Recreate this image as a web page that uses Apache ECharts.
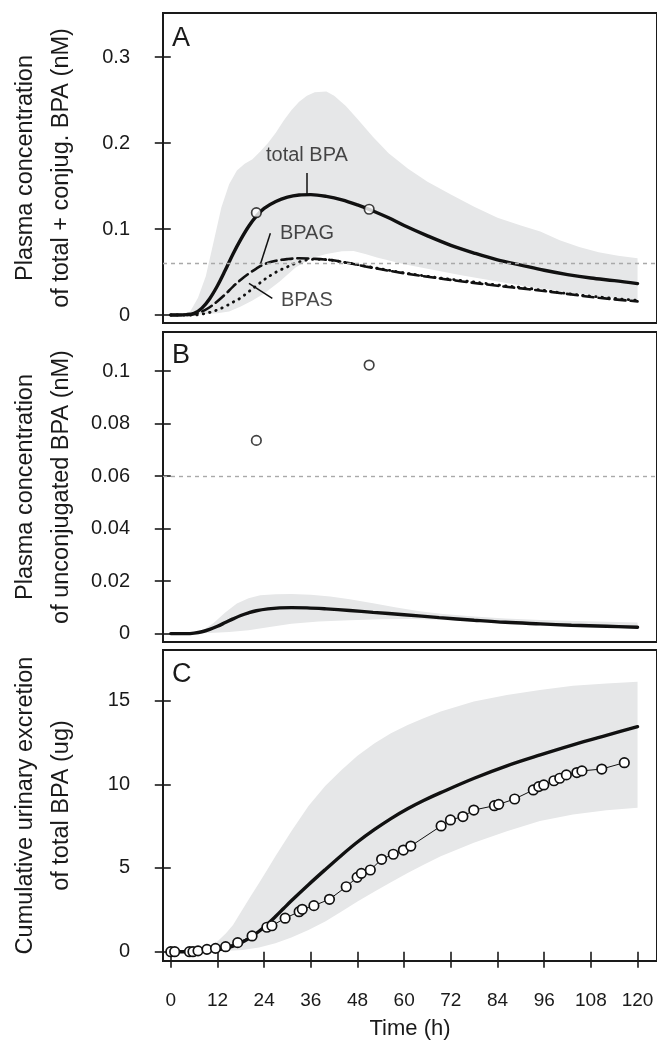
<!DOCTYPE html>
<html><head><meta charset="utf-8">
<script src="https://cdn.jsdelivr.net/npm/echarts@6/dist/echarts.min.js"></script>
<style>html,body{margin:0;padding:0;background:#fff}#c{width:657px;height:1042px}</style>
</head><body><div id="c"></div>
<script>
// ---------- tick labels ----------
const xTicks = [0, 12, 24, 36, 48, 60, 72, 84, 96, 108, 120];
const yTicksA = [0, 0.1, 0.2, 0.3];
const yTicksB = [0, 0.02, 0.04, 0.06, 0.08, 0.1];
const yTicksC = [0, 5, 10, 15];
const LOQ = 0.0614;

// ---------- Panel A: total + conjugated BPA (nM) ----------
const totalBPA = [[0,0],[4,0.0005],[6,0.002],[8,0.008],[10,0.019],[12,0.034],[14,0.052],[16,0.071],[18,0.088],[20,0.103],[22,0.115],[24,0.124],[27,0.132],[30,0.137],[33,0.1395],[36,0.140],[40,0.138],[44,0.134],[48,0.128],[52,0.121],[56,0.113],[60,0.104],[66,0.092],[72,0.081],[78,0.072],[84,0.064],[90,0.058],[96,0.052],[102,0.047],[108,0.043],[114,0.040],[120,0.0365]];
const bpag = [[0,0],[4,0],[6,0.001],[8,0.004],[10,0.009],[12,0.016],[14,0.024],[16,0.033],[18,0.041],[20,0.048],[22,0.054],[24,0.059],[27,0.063],[30,0.065],[33,0.066],[36,0.0655],[41,0.064],[45,0.061],[50,0.0565],[58,0.050],[66,0.0445],[75,0.039],[84,0.034],[92,0.030],[101,0.025],[110,0.020],[120,0.0158]];
const bpas = [[0,0],[6,0],[8,0.001],[10,0.003],[12,0.006],[14,0.010],[16,0.015],[18,0.020],[20,0.027],[22,0.034],[24,0.041],[26,0.047],[28,0.052],[30,0.056],[32,0.060],[34,0.063],[36,0.0645],[38,0.0648],[41,0.064],[45,0.061],[50,0.057],[58,0.0505],[66,0.045],[75,0.040],[84,0.035],[92,0.031],[101,0.0255],[110,0.021],[120,0.017]];
const bandA_upper = [[3,0],[5,0.004],[7,0.02],[9,0.045],[11,0.085],[13,0.125],[15,0.152],[17,0.168],[19,0.176],[21,0.181],[23,0.19],[25,0.2],[27,0.212],[29,0.226],[31,0.238],[33,0.248],[35,0.255],[37,0.259],[40,0.26],[42,0.255],[45,0.243],[48,0.228],[52,0.207],[56,0.188],[61,0.17],[66,0.155],[72,0.14],[78,0.126],[84,0.113],[90,0.104],[95,0.097],[100,0.087],[105,0.079],[110,0.073],[115,0.069],[120,0.066]];
const bandA_lower = [[3,0],[8,0.001],[12,0.002],[15,0.004],[18,0.01],[21,0.017],[24,0.025],[28,0.039],[32,0.055],[36,0.066],[40,0.071],[44,0.074],[47,0.0745],[50,0.071],[53,0.067],[60,0.059],[67,0.053],[75,0.046],[84,0.039],[92,0.033],[101,0.027],[110,0.022],[120,0.016]];
const obsA = [[22.0,0.119],[51.0,0.123]];
const annotA = [
  {name:'total BPA', value:[35,0.185]},
  {name:'BPAG', value:[35,0.0948]},
  {name:'BPAS', value:[35,0.0174]}
];
const leadersA = [
  [[35,0.165],[35,0.140]],
  [[25.6,0.095],[23.1,0.060]],
  [[20.1,0.0369],[26.1,0.0194]]
];

// ---------- Panel B: unconjugated BPA (nM) ----------
const modelB = [[0,0],[4,0],[6,0.0002],[8,0.0007],[10,0.0016],[12,0.0028],[14,0.0042],[16,0.0056],[18,0.0069],[20,0.0079],[22,0.0087],[25,0.0094],[28,0.0098],[31,0.0099],[35,0.0098],[40,0.0094],[46,0.0088],[52,0.0081],[60,0.0072],[69,0.0061],[78,0.0051],[86,0.0043],[95,0.0037],[103,0.0032],[112,0.0028],[120,0.0024]];
const bandB_upper = [[5,0],[8,0.001],[11,0.004],[14,0.008],[17,0.0115],[20,0.0135],[23,0.0146],[27,0.015],[31,0.0151],[36,0.0148],[41,0.0141],[46,0.0131],[52,0.0116],[58,0.0099],[64,0.0085],[70,0.0075],[78,0.0065],[86,0.0058],[95,0.0052],[104,0.0048],[112,0.0045],[120,0.0042]];
const bandB_lower = [[5,0],[10,0.0002],[15,0.0006],[20,0.0013],[25,0.0024],[31,0.0038],[38,0.0046],[46,0.0051],[54,0.0055],[62,0.0056],[70,0.0052],[78,0.0046],[86,0.0039],[95,0.0030],[104,0.0025],[112,0.0021],[120,0.0018]];
const obsB = [[22.0,0.0736],[51.0,0.1023]];

// ---------- Panel C: cumulative urinary excretion (ug) ----------
const modelC = [[0,0],[5,0],[8,0.02],[11,0.08],[14,0.2],[16,0.33],[18,0.52],[20,0.78],[22.7,1.22],[25,1.68],[27,2.12],[29,2.58],[31,3.04],[35.4,4.0],[39.7,4.9],[44,5.78],[48,6.55],[52.4,7.3],[56.6,7.95],[61,8.55],[65,9.03],[69.4,9.5],[78,10.36],[86.4,11.1],[95,11.75],[103.4,12.35],[112,12.92],[120,13.44]];
const bandC_upper = [[3,0],[6,0.05],[9,0.15],[11.5,0.5],[14.2,1.1],[16,1.6],[18.4,2.5],[20.5,3.3],[22.7,4.1],[24.8,4.9],[26.9,5.7],[31,7.2],[35.4,8.7],[39.7,9.9],[43.9,10.85],[48,11.7],[52.4,12.45],[56.6,13.05],[60.9,13.54],[65,13.95],[69.4,14.34],[77.9,14.94],[86.4,15.33],[94.9,15.63],[103.4,15.89],[112,16.02],[120,16.13]];
const bandC_lower = [[3,0],[10,0],[18.4,0.1],[22.7,0.25],[26.9,0.5],[31,0.85],[35.4,1.3],[39.7,1.8],[43.9,2.4],[48,3.0],[52.4,3.6],[56.6,4.15],[60.9,4.7],[65,5.2],[69.4,5.7],[77.9,6.5],[86.4,7.2],[94.9,7.8],[103.4,8.2],[112,8.45],[120,8.6]];
const obsC = [[0,0],[1,0],[4.8,0],[5.7,0],[7,0.05],[9.3,0.14],[11.5,0.2],[14.1,0.3],[17.2,0.54],[20.9,0.94],[24.7,1.46],[26,1.55],[29.4,2.0],[33,2.39],[33.8,2.53],[36.8,2.75],[40.8,3.13],[45.1,3.88],[47.9,4.44],[49,4.68],[51.3,4.88],[54.2,5.52],[57.2,5.82],[59.8,6.07],[61.7,6.31],[69.5,7.51],[71.9,7.87],[75.1,8.07],[77.9,8.46],[83.2,8.72],[84.3,8.8],[88.4,9.12],[93.2,9.66],[94.6,9.86],[95.9,9.96],[98.5,10.21],[100,10.36],[101.7,10.56],[104.4,10.7],[105.7,10.8],[110.8,10.91],[116.6,11.29]];

// ---------- styling / layout ----------
const FONT = 'Liberation Sans, Arial, Helvetica, sans-serif';
const INK = '#1a1a1a';
const BAND = '#e6e7e8';
const grids = [
  {left:160, top:13, width:498, height:310},
  {left:160, top:332, width:498, height:310},
  {left:160, top:650, width:498, height:311}
].map(g => Object.assign(g, {show:true, borderColor:INK, borderWidth:2, backgroundColor:'transparent', containLabel:false}));

function xAxis(i, showLabels) {
  return {
    type:'value', gridIndex:i, min:-2, max:125,
    axisLine:{show:false}, splitLine:{show:false},
    axisTick:{show:showLabels, length:16, lineStyle:{color:INK, width:1.6}, customValues:xTicks},
    axisLabel:{show:showLabels, margin:30, fontSize:19, color:INK, fontFamily:FONT, customValues:xTicks},
    name: showLabels ? 'Time (h)' : '', nameLocation:'middle', nameGap:57,
    nameTextStyle:{fontSize:22, color:INK, fontFamily:FONT}
  };
}
function yAxis(i, min, max, ticks, name) {
  return {
    type:'value', gridIndex:i, min:min, max:max,
    axisLine:{show:false}, splitLine:{show:false},
    axisTick:{show:true, length:16, lineStyle:{color:INK, width:1.6}, customValues:ticks},
    axisLabel:{margin:33, fontSize:20, color:INK, fontFamily:FONT, customValues:ticks, formatter:v => String(v)},
    name:name, nameLocation:'middle', nameRotate:90, nameGap:83,
    nameTextStyle:{fontSize:23.5, lineHeight:36, color:INK, fontFamily:FONT, align:'center'}
  };
}
function band(upper, lower, gi) {
  return {
    type:'custom', xAxisIndex:gi, yAxisIndex:gi, z:1, silent:true,
    data:[[upper[0][0], upper[0][1]]],
    renderItem:(params, api) => {
      const pts = upper.map(p => api.coord(p)).concat(lower.slice().reverse().map(p => api.coord(p)));
      return {type:'polygon', shape:{points:pts}, style:{fill:BAND}};
    }
  };
}
function curve(data, gi, type, width) {
  return {type:'line', xAxisIndex:gi, yAxisIndex:gi, data:data, smooth:0.35, showSymbol:false, z:3, silent:true,
    lineStyle:{color:'#111', width:width, type:type, cap:'round'}};
}
function obs(data, gi, connect) {
  return {type:connect ? 'line' : 'scatter', xAxisIndex:gi, yAxisIndex:gi, data:data, z:5, silent:true,
    symbol:'circle', symbolSize:9.5, showSymbol:true,
    itemStyle:{color:'#fff', borderColor:'#111', borderWidth:1.7},
    lineStyle:{color:'#111', width:1}};
}
function loqLine(gi) {
  return {type:'line', xAxisIndex:gi, yAxisIndex:gi, data:[], z:2, silent:true,
    markLine:{silent:true, symbol:'none', label:{show:false},
      lineStyle:{color:'#a9a9a9', width:1.4, type:[4,4]}, data:[{yAxis:LOQ}]}};
}

const option = {
  animation:false,
  backgroundColor:'#fff',
  textStyle:{fontFamily:FONT},
  grid:grids,
  xAxis:[xAxis(0,false), xAxis(1,false), xAxis(2,true)],
  yAxis:[
    yAxis(0, -0.0093, 0.3512, yTicksA, 'Plasma concentration\nof total + conjug. BPA (nM)'),
    yAxis(1, -0.0032, 0.1149, yTicksB, 'Plasma concentration\nof unconjugated BPA (nM)'),
    yAxis(2, -0.556, 18.02, yTicksC, 'Cumulative urinary excretion\nof total BPA (ug)')
  ],
  graphic:[
    {type:'text', left:172, top:25, style:{text:'A', fontSize:27, fill:INK, fontFamily:FONT}},
    {type:'text', left:172, top:342, style:{text:'B', fontSize:27, fill:INK, fontFamily:FONT}},
    {type:'text', left:172, top:661, style:{text:'C', fontSize:27, fill:INK, fontFamily:FONT}}
  ],
  series:[
    band(bandA_upper, bandA_lower, 0),
    loqLine(0),
    curve(bpas, 0, [0.5,6], 2.8),
    curve(bpag, 0, [11,5], 2.6),
    curve(totalBPA, 0, 'solid', 3.4),
    obs(obsA, 0, false),
    {type:'scatter', xAxisIndex:0, yAxisIndex:0, data:annotA, symbolSize:0, z:6, silent:true,
      label:{show:true, position:'inside', formatter:p => p.name, fontSize:20, color:INK, fontFamily:FONT},
      markLine:{silent:true, symbol:'none', label:{show:false}, lineStyle:{color:'#111', width:1.5, type:'solid'},
        data:leadersA.map(s => [{coord:s[0]}, {coord:s[1]}])}},
    band(bandB_upper, bandB_lower, 1),
    loqLine(1),
    curve(modelB, 1, 'solid', 3.4),
    obs(obsB, 1, false),
    band(bandC_upper, bandC_lower, 2),
    curve(modelC, 2, 'solid', 3.4),
    obs(obsC, 2, true)
  ]
};
const chart = echarts.init(document.getElementById('c'), null, {renderer:'canvas'});
chart.setOption(option);
</script></body></html>
